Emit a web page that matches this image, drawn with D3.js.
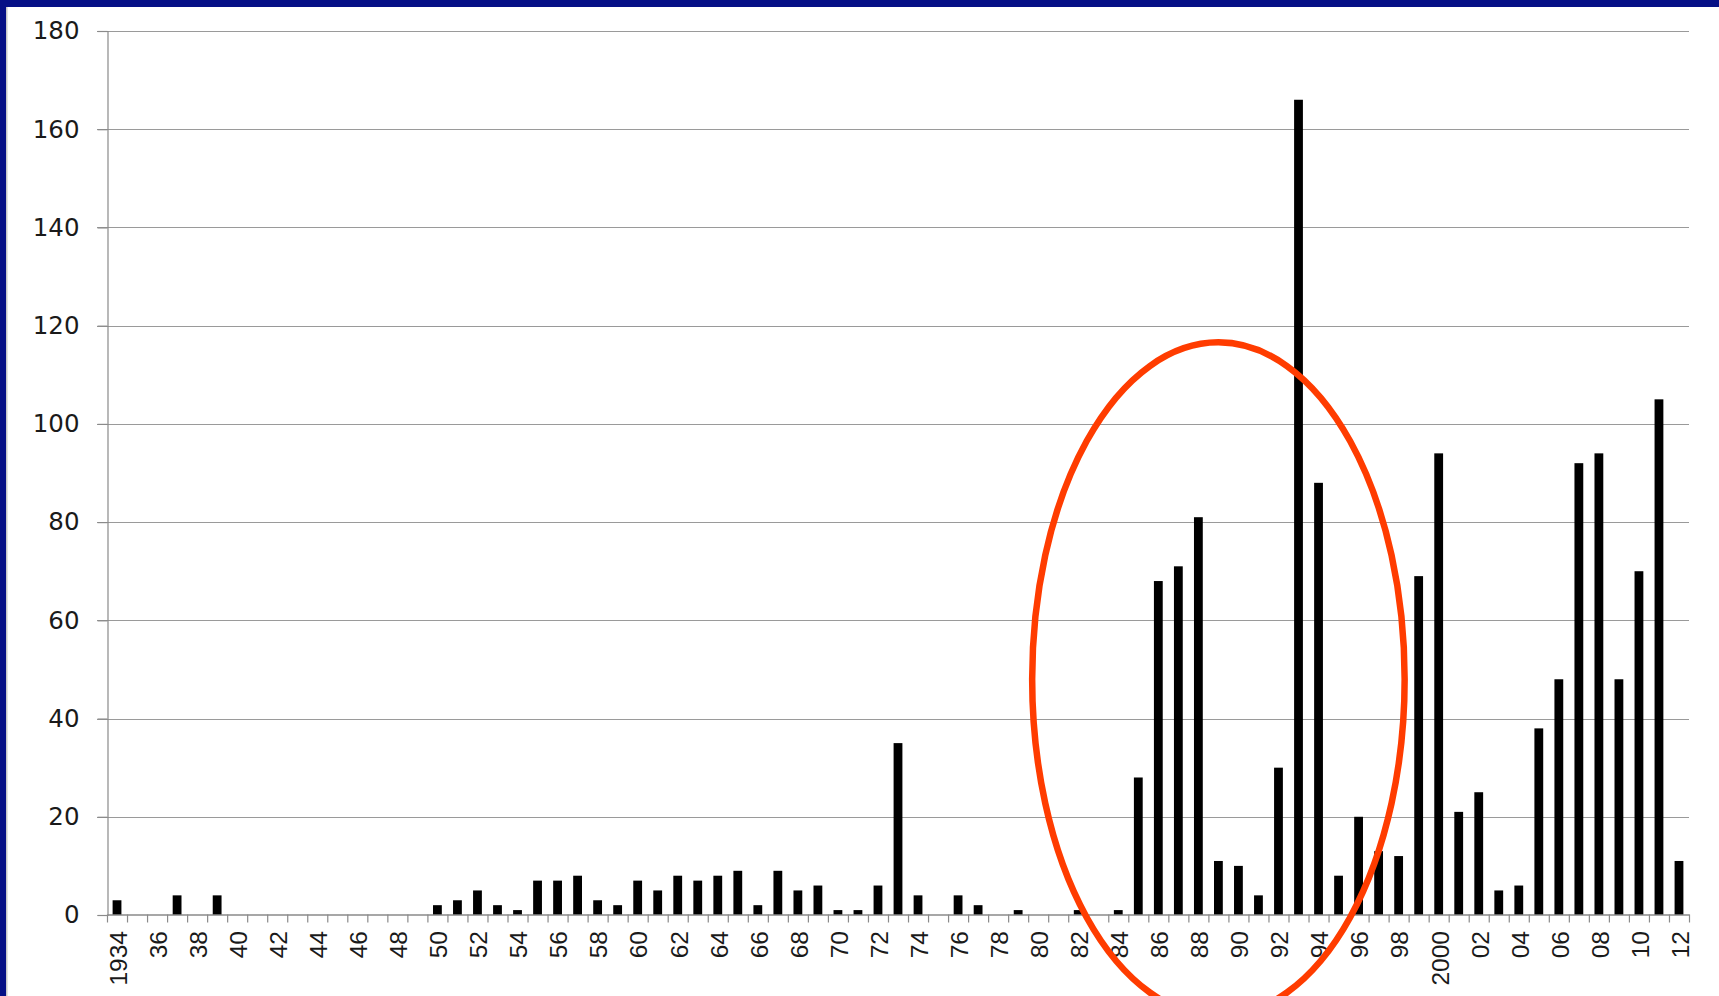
<!DOCTYPE html>
<html>
<head>
<meta charset="utf-8">
<script src="https://cdn.jsdelivr.net/npm/d3@7"></script>
<style>
  html, body { margin: 0; padding: 0; background: #fff; }
  svg { display: block; }
</style>
</head>
<body>
<div id="chart"></div>
<script>
// years on the x axis
var years = d3.range(1934, 2013);

// counts per year
var counts = [
  3, 0, 0, 4, 0, 4, 0, 0, 0, 0,        // 1934-43
  0, 0, 0, 0, 0, 0, 2, 3, 5, 2,        // 1944-53
  1, 7, 7, 8, 3, 2, 7, 5, 8, 7,        // 1954-63
  8, 9, 2, 9, 5, 6, 1, 1, 6, 35,       // 1964-73
  4, 0, 4, 2, 0, 1, 0, 0, 1, 0,        // 1974-83
  1, 28, 68, 71, 81, 11, 10, 4, 30, 166, // 1984-93
  88, 8, 20, 13, 12, 69, 94, 21, 25, 5,  // 1994-2003
  6, 38, 48, 92, 94, 48, 70, 105, 11     // 2004-12
];

var yTicks = [0, 20, 40, 60, 80, 100, 120, 140, 160, 180];

// labels under every other year
var xLabels = {
  1934: "1934", 1936: "36", 1938: "38", 1940: "40", 1942: "42", 1944: "44",
  1946: "46", 1948: "48", 1950: "50", 1952: "52", 1954: "54", 1956: "56",
  1958: "58", 1960: "60", 1962: "62", 1964: "64", 1966: "66", 1968: "68",
  1970: "70", 1972: "72", 1974: "74", 1976: "76", 1978: "78", 1980: "80",
  1982: "82", 1984: "84", 1986: "86", 1988: "88", 1990: "90", 1992: "92",
  1994: "94", 1996: "96", 1998: "98", 2000: "2000", 2002: "02", 2004: "04",
  2006: "06", 2008: "08", 2010: "10", 2012: "12"
};

// the red ring drawn over the chart (in data units)
var ring = { year: 1989, value: 48, halfYears: 9.3, halfValue: 68.6 };

(function() {
  var W = 1719, H = 996;
  var plotLeft = 107, plotRight = 1689, plotTop = 31, plotBottom = 915;

  var svg = d3.select("#chart").append("svg")
    .attr("width", W)
    .attr("height", H);

  svg.append("rect").attr("width", W).attr("height", H).attr("fill", "#fff");

  var x = d3.scaleBand()
    .domain(years)
    .range([plotLeft, plotRight])
    .paddingInner(0.56)
    .paddingOuter(0.28);

  var y = d3.scaleLinear()
    .domain([0, 180])
    .range([plotBottom, plotTop]);

  // gridlines
  svg.append("g")
    .selectAll("line")
    .data(yTicks.filter(function(d) { return d > 0; }))
    .enter().append("line")
    .attr("x1", plotLeft - 10)
    .attr("x2", plotRight)
    .attr("y1", function(d) { return Math.round(y(d)) + 0.5; })
    .attr("y2", function(d) { return Math.round(y(d)) + 0.5; })
    .attr("stroke", "#9a9a9a")
    .attr("stroke-width", 1.2);

  // y axis
  var yAxis = d3.axisLeft(y).tickValues(yTicks).tickSize(10).tickPadding(18);
  var yg = svg.append("g")
    .attr("transform", "translate(" + (plotLeft + 0.5) + ",0)")
    .call(yAxis);
  yg.select(".domain").attr("stroke", "#8a8a8a").attr("stroke-width", 1.2);
  yg.selectAll(".tick line").attr("stroke", "#8a8a8a").attr("stroke-width", 1.2);
  yg.selectAll(".tick text")
    .attr("font-family", "'DejaVu Sans', Verdana, sans-serif")
    .attr("font-size", 24.5)
    .attr("fill", "#1a1a1a");

  // bars
  svg.append("g")
    .selectAll("rect")
    .data(years)
    .enter().append("rect")
    .attr("x", function(d) { return x(d); })
    .attr("width", x.bandwidth())
    .attr("y", function(d, i) { return y(counts[i]); })
    .attr("height", function(d, i) { return y(0) - y(counts[i]); })
    .attr("fill", "#000");

  // x axis line and ticks at the band edges
  var edge = d3.scaleLinear().domain([0, years.length]).range([plotLeft, plotRight]);
  var xTickAxis = d3.axisBottom(edge)
    .tickValues(d3.range(years.length + 1))
    .tickFormat("")
    .tickSize(8)
    .tickSizeOuter(0);
  var xg = svg.append("g")
    .attr("transform", "translate(0," + (plotBottom - 0.5) + ")")
    .call(xTickAxis);
  xg.select(".domain").attr("stroke", "#8a8a8a").attr("stroke-width", 1.4);
  xg.selectAll(".tick line").attr("stroke", "#8a8a8a").attr("stroke-width", 1.2);

  // x labels, rotated
  svg.append("g")
    .selectAll("text")
    .data(years.filter(function(d) { return xLabels[d]; }))
    .enter().append("text")
    .attr("transform", function(d) {
      return "translate(" + (x(d) + x.bandwidth() / 2 + 1) + "," + (plotBottom + 16) + ") rotate(-90)";
    })
    .attr("text-anchor", "end")
    .attr("dy", "0.36em")
    .attr("font-family", "'Liberation Sans', Arial, sans-serif")
    .attr("font-size", 24.5)
    .attr("fill", "#1a1a1a")
    .text(function(d) { return xLabels[d]; });

  // red ring
  svg.append("ellipse")
    .attr("cx", x(ring.year) + x.bandwidth() / 2)
    .attr("cy", y(ring.value))
    .attr("rx", ring.halfYears * x.step())
    .attr("ry", y(0) - y(ring.halfValue))
    .attr("fill", "none")
    .attr("stroke", "#ff3c00")
    .attr("stroke-width", 6.5);

  // slide frame: blue band on top and left
  svg.append("rect").attr("x", 0).attr("y", 0).attr("width", W).attr("height", 7).attr("fill", "#061086");
  svg.append("rect").attr("x", 0).attr("y", 0).attr("width", 6).attr("height", H).attr("fill", "#061086");
  svg.append("rect").attr("x", 6).attr("y", 7).attr("width", 1.5).attr("height", H).attr("fill", "#c8c8c8");
})();
</script>
</body>
</html>
